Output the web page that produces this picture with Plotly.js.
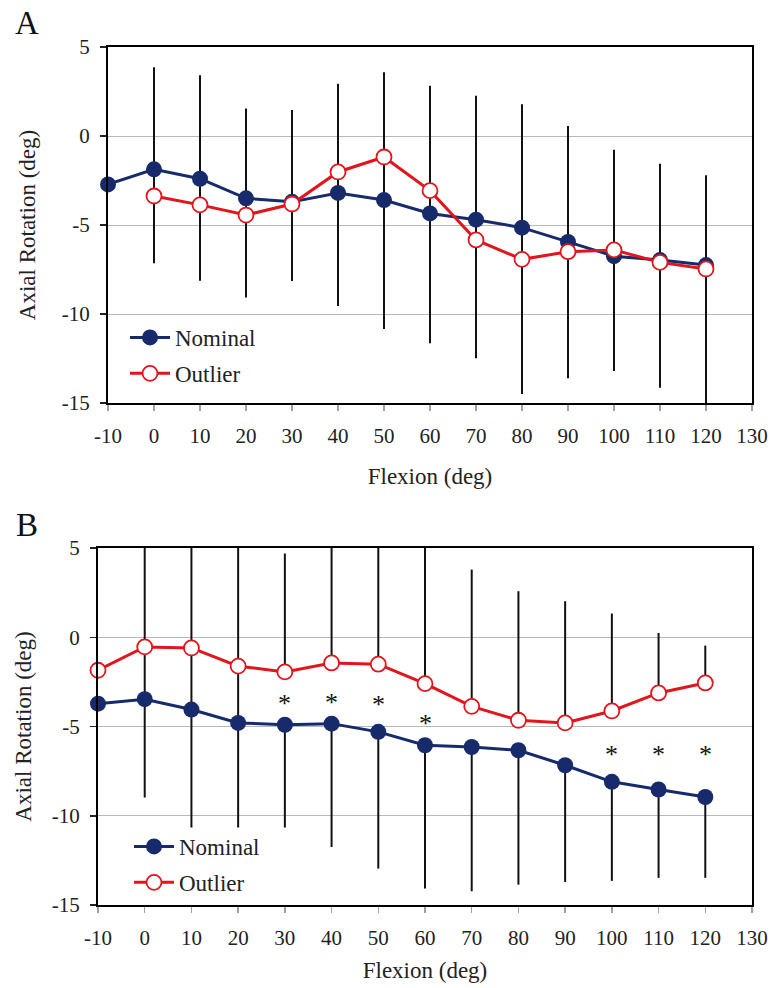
<!DOCTYPE html>
<html>
<head>
<meta charset="utf-8">
<script src="https://cdn.plot.ly/plotly-3.0.1.min.js"></script>
<style>html,body{margin:0;padding:0;background:#fff;}#chart{width:774px;height:988px;}</style>
</head>
<body>
<div id="chart"></div>
<script>
// ---- Data ----
const flexion = [-10, 0, 10, 20, 30, 40, 50, 60, 70, 80, 90, 100, 110, 120];
const xTicks = [-10, 0, 10, 20, 30, 40, 50, 60, 70, 80, 90, 100, 110, 120, 130];
const yTicks = [-15, -10, -5, 0, 5];

// Panel A
const nominalA = [-2.72, -1.87, -2.40, -3.50, -3.70, -3.20, -3.60, -4.35, -4.70, -5.15, -5.95, -6.75, -6.97, -7.25];
const outlierA = [null, -3.37, -3.87, -4.44, -3.82, -2.02, -1.18, -3.07, -5.84, -6.93, -6.50, -6.40, -7.10, -7.47];
const barTopA = [null, 3.86, 3.41, 1.55, 1.46, 2.94, 3.58, 2.83, 2.26, 1.78, 0.56, -0.77, -1.56, -2.21];
const barBottomA = [null, -7.15, -8.13, -9.08, -8.15, -9.55, -10.84, -11.65, -12.49, -14.49, -13.61, -13.20, -14.14, -15.00];

// Panel B
const nominalB = [-3.72, -3.47, -4.05, -4.80, -4.90, -4.84, -5.30, -6.05, -6.15, -6.33, -7.17, -8.10, -8.53, -8.95];
const outlierB = [-1.85, -0.54, -0.60, -1.62, -1.94, -1.44, -1.51, -2.60, -3.87, -4.65, -4.80, -4.13, -3.12, -2.56];
const barTopB = [null, 5.43, 5.43, 5.43, 4.69, 5.00, 5.43, 5.28, 3.79, 2.58, 2.02, 1.33, 0.24, -0.47];
const barBottomB = [null, -8.98, -10.66, -10.66, -10.66, -11.75, -12.96, -14.08, -14.23, -13.86, -13.71, -13.65, -13.48, -13.48];
const barJoinedB = [false, true, true, true, false, false, false, false, false, false, false, false, false, false];

// Significance markers (panel B)
const sigX = [30, 40, 50, 60, 100, 110, 120];
const sigY = [-3.45, -3.35, -3.50, -4.55, -6.30, -6.30, -6.30];

// ---- Styling ----
const FONT = '"Liberation Serif"';
const NAVY = '#172a6c';
const RED = '#e2141c';
const BAR = '#111111';
const W = 774, H = 988;

const diff = (a, b) => a.map((v, i) => (v == null || b[i] == null) ? null : v - b[i]);

const traces = [
  {
    x: flexion, y: barBottomA, xaxis: 'x', yaxis: 'y', type: 'scatter', mode: 'markers',
    marker: {size: 1, color: 'rgba(0,0,0,0)'}, showlegend: false, hoverinfo: 'skip', cliponaxis: false,
    error_y: {type: 'data', symmetric: false, array: diff(barTopA, barBottomA),
      arrayminus: flexion.map(() => 0), width: 0, thickness: 2, color: BAR}
  },
  {
    x: flexion, y: outlierB, xaxis: 'x2', yaxis: 'y2', type: 'scatter', mode: 'markers',
    marker: {size: 1, color: 'rgba(0,0,0,0)'}, showlegend: false, hoverinfo: 'skip', cliponaxis: false,
    error_y: {type: 'data', symmetric: false, array: diff(barTopB, outlierB),
      arrayminus: flexion.map(() => 0), width: 0, thickness: 2, color: BAR}
  },
  {
    x: flexion, y: nominalB, xaxis: 'x2', yaxis: 'y2', type: 'scatter', mode: 'markers',
    marker: {size: 1, color: 'rgba(0,0,0,0)'}, showlegend: false, hoverinfo: 'skip', cliponaxis: false,
    error_y: {type: 'data', symmetric: false,
      array: outlierB.map((v, i) => barJoinedB[i] ? v - nominalB[i] : 0),
      arrayminus: diff(nominalB, barBottomB), width: 0, thickness: 2, color: BAR}
  },
  {
    x: flexion, y: nominalA, name: 'Nominal', xaxis: 'x', yaxis: 'y', type: 'scatter', mode: 'lines+markers',
    line: {color: NAVY, width: 3}, marker: {color: NAVY, size: 16, line: {color: NAVY, width: 0}},
    legend: 'legend', legendgroup: 'a1', cliponaxis: false
  },
  {
    x: flexion, y: outlierA, name: 'Outlier', xaxis: 'x', yaxis: 'y', type: 'scatter', mode: 'lines+markers',
    line: {color: RED, width: 3}, marker: {color: '#ffffff', size: 15, line: {color: RED, width: 1.8}},
    legend: 'legend', legendgroup: 'a2', cliponaxis: false
  },
  {
    x: flexion, y: nominalB, name: 'Nominal', xaxis: 'x2', yaxis: 'y2', type: 'scatter', mode: 'lines+markers',
    line: {color: NAVY, width: 3}, marker: {color: NAVY, size: 16, line: {color: NAVY, width: 0}},
    legend: 'legend2', legendgroup: 'b1', cliponaxis: false
  },
  {
    x: flexion, y: outlierB, name: 'Outlier', xaxis: 'x2', yaxis: 'y2', type: 'scatter', mode: 'lines+markers',
    line: {color: RED, width: 3}, marker: {color: '#ffffff', size: 15, line: {color: RED, width: 1.8}},
    legend: 'legend2', legendgroup: 'b2', cliponaxis: false
  }
];

function xAxis(domainPx, anchor, standoff) {
  return {
    domain: [domainPx[0] / W, domainPx[1] / W], anchor: anchor,
    range: [-10, 130], tickmode: 'array', tickvals: xTicks, ticktext: xTicks.map(String),
    ticks: 'outside', ticklen: 6, tickwidth: 1.5, tickcolor: '#a0a0a0',
    showline: true, mirror: true, linecolor: '#000', linewidth: 2,
    showgrid: false, zeroline: false,
    tickfont: {family: FONT, size: 21, color: '#222'}, ticklabelstandoff: 7,
    title: {text: 'Flexion (deg)', font: {family: FONT, size: 23, color: '#222'}, standoff: standoff}
  };
}
function yAxis(domainPx, anchor, standoff) {
  return {
    domain: [1 - domainPx[1] / H, 1 - domainPx[0] / H], anchor: anchor,
    range: [-15, 5], tickmode: 'array', tickvals: yTicks, ticktext: yTicks.map(String),
    ticks: 'outside', ticklen: 6, tickwidth: 1.5, tickcolor: '#222',
    showline: true, mirror: true, linecolor: '#000', linewidth: 2,
    showgrid: true, gridcolor: '#b8b8b8', gridwidth: 1, zeroline: false,
    tickfont: {family: FONT, size: 21, color: '#222'}, ticklabelstandoff: 6,
    title: {text: 'Axial Rotation (deg)', font: {family: FONT, size: 23, color: '#222'}, standoff: standoff}
  };
}

const legendStyle = (xPx, yPx) => ({
  x: xPx / W, y: 1 - yPx / H, xanchor: 'left', yanchor: 'top',
  bgcolor: 'rgba(0,0,0,0)', borderwidth: 0,
  font: {family: FONT, size: 23, color: '#222'},
  traceorder: 'grouped', tracegroupgap: 3, itemwidth: 40
});

const annotations = [
  {text: 'A', x: 27 / W, y: 1 - 23 / H, xref: 'paper', yref: 'paper', showarrow: false,
   font: {family: FONT, size: 33, color: '#111'}, xanchor: 'center', yanchor: 'middle'},
  {text: 'B', x: 27 / W, y: 1 - 525 / H, xref: 'paper', yref: 'paper', showarrow: false,
   font: {family: FONT, size: 33, color: '#111'}, xanchor: 'center', yanchor: 'middle'}
].concat(sigX.map((x, i) => ({
  text: '*', x: x, y: sigY[i], xref: 'x2', yref: 'y2', showarrow: false, yshift: -5,
  font: {family: FONT, size: 26, color: '#111'}, xanchor: 'center', yanchor: 'middle'
})));

const layout = {
  width: W, height: H,
  margin: {l: 0, r: 0, t: 0, b: 0},
  paper_bgcolor: '#fff', plot_bgcolor: '#fff',
  font: {family: FONT, color: '#222'},
  xaxis: xAxis([108, 752], 'y', 21),
  yaxis: yAxis([47, 403], 'x', 20),
  xaxis2: xAxis([98, 752], 'y2', 13),
  yaxis2: yAxis([548, 905], 'x2', 14),
  legend: legendStyle(125, 316),
  legend2: legendStyle(129, 825),
  annotations: annotations,
  showlegend: true
};

Plotly.newPlot('chart', traces, layout, {displayModeBar: false, staticPlot: true});
</script>
</body>
</html>
